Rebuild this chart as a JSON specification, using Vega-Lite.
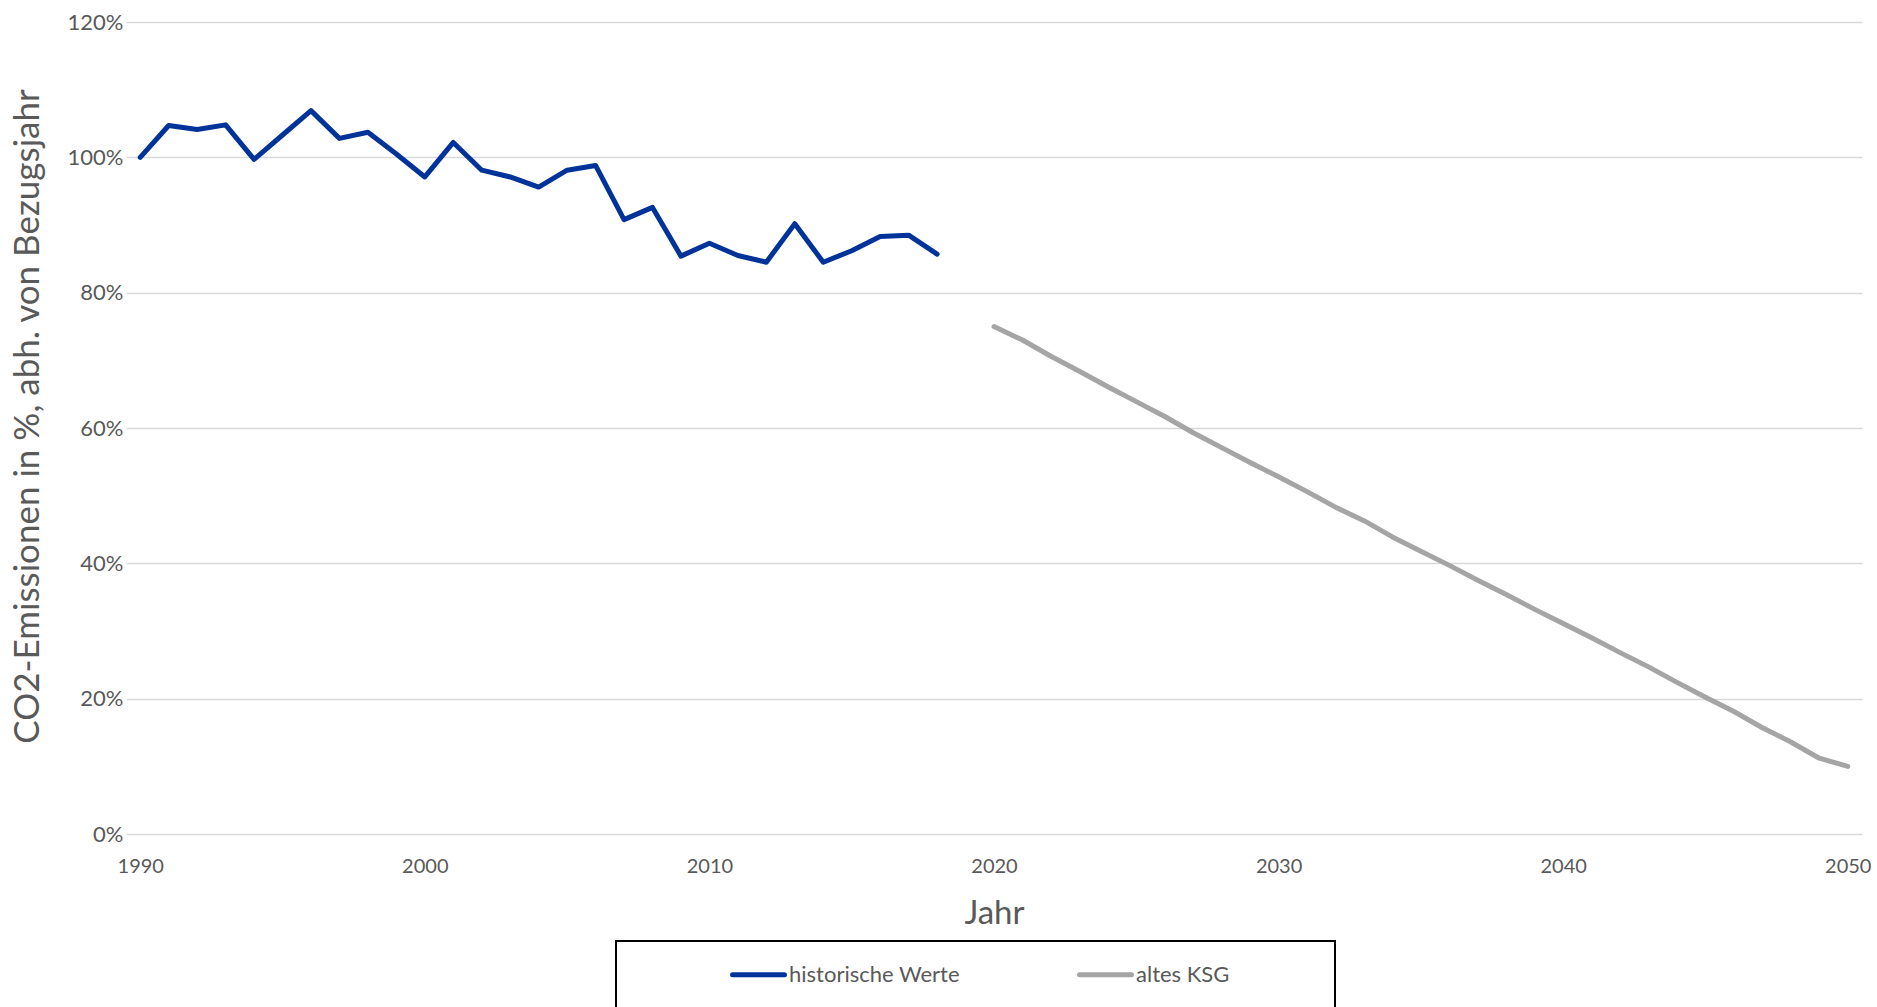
{
  "$schema": "https://vega.github.io/schema/vega-lite/v6.json",
  "autosize": {"type": "none"},
  "padding": {"left": 126, "top": 22, "right": 15, "bottom": 173},
  "width": 1736,
  "height": 812,
  "background": "white",
  "config": {
    "view": {"stroke": null},
    "font": "Lato",
    "axis": {"labelFont": "Lato", "titleFont": "Lato", "labelColor": "#595959", "titleColor": "#595959", "titleFontWeight": "normal"},
    "legend": {"labelFont": "Lato", "titleFont": "Lato"}
  },
  "data": {
    "values": [
      {"year": 1990, "value": 1.000, "series": "historische Werte"},
      {"year": 1991, "value": 1.047, "series": "historische Werte"},
      {"year": 1992, "value": 1.041, "series": "historische Werte"},
      {"year": 1993, "value": 1.048, "series": "historische Werte"},
      {"year": 1994, "value": 0.997, "series": "historische Werte"},
      {"year": 1995, "value": 1.033, "series": "historische Werte"},
      {"year": 1996, "value": 1.069, "series": "historische Werte"},
      {"year": 1997, "value": 1.028, "series": "historische Werte"},
      {"year": 1998, "value": 1.037, "series": "historische Werte"},
      {"year": 1999, "value": 1.005, "series": "historische Werte"},
      {"year": 2000, "value": 0.971, "series": "historische Werte"},
      {"year": 2001, "value": 1.022, "series": "historische Werte"},
      {"year": 2002, "value": 0.981, "series": "historische Werte"},
      {"year": 2003, "value": 0.971, "series": "historische Werte"},
      {"year": 2004, "value": 0.956, "series": "historische Werte"},
      {"year": 2005, "value": 0.981, "series": "historische Werte"},
      {"year": 2006, "value": 0.988, "series": "historische Werte"},
      {"year": 2007, "value": 0.908, "series": "historische Werte"},
      {"year": 2008, "value": 0.926, "series": "historische Werte"},
      {"year": 2009, "value": 0.854, "series": "historische Werte"},
      {"year": 2010, "value": 0.873, "series": "historische Werte"},
      {"year": 2011, "value": 0.855, "series": "historische Werte"},
      {"year": 2012, "value": 0.845, "series": "historische Werte"},
      {"year": 2013, "value": 0.902, "series": "historische Werte"},
      {"year": 2014, "value": 0.845, "series": "historische Werte"},
      {"year": 2015, "value": 0.862, "series": "historische Werte"},
      {"year": 2016, "value": 0.883, "series": "historische Werte"},
      {"year": 2017, "value": 0.885, "series": "historische Werte"},
      {"year": 2018, "value": 0.857, "series": "historische Werte"},
      {"year": 2020, "value": 0.750, "series": "altes KSG"},
      {"year": 2021, "value": 0.730, "series": "altes KSG"},
      {"year": 2022, "value": 0.706, "series": "altes KSG"},
      {"year": 2023, "value": 0.684, "series": "altes KSG"},
      {"year": 2024, "value": 0.661, "series": "altes KSG"},
      {"year": 2025, "value": 0.639, "series": "altes KSG"},
      {"year": 2026, "value": 0.617, "series": "altes KSG"},
      {"year": 2027, "value": 0.593, "series": "altes KSG"},
      {"year": 2028, "value": 0.571, "series": "altes KSG"},
      {"year": 2029, "value": 0.549, "series": "altes KSG"},
      {"year": 2030, "value": 0.528, "series": "altes KSG"},
      {"year": 2031, "value": 0.506, "series": "altes KSG"},
      {"year": 2032, "value": 0.483, "series": "altes KSG"},
      {"year": 2033, "value": 0.463, "series": "altes KSG"},
      {"year": 2034, "value": 0.439, "series": "altes KSG"},
      {"year": 2035, "value": 0.418, "series": "altes KSG"},
      {"year": 2036, "value": 0.397, "series": "altes KSG"},
      {"year": 2037, "value": 0.375, "series": "altes KSG"},
      {"year": 2038, "value": 0.354, "series": "altes KSG"},
      {"year": 2039, "value": 0.332, "series": "altes KSG"},
      {"year": 2040, "value": 0.311, "series": "altes KSG"},
      {"year": 2041, "value": 0.290, "series": "altes KSG"},
      {"year": 2042, "value": 0.268, "series": "altes KSG"},
      {"year": 2043, "value": 0.247, "series": "altes KSG"},
      {"year": 2044, "value": 0.224, "series": "altes KSG"},
      {"year": 2045, "value": 0.202, "series": "altes KSG"},
      {"year": 2046, "value": 0.181, "series": "altes KSG"},
      {"year": 2047, "value": 0.157, "series": "altes KSG"},
      {"year": 2048, "value": 0.136, "series": "altes KSG"},
      {"year": 2049, "value": 0.112, "series": "altes KSG"},
      {"year": 2050, "value": 0.100, "series": "altes KSG"}
    ]
  },
  "mark": {"type": "line", "strokeWidth": 5, "strokeCap": "round", "strokeJoin": "round"},
  "encoding": {
    "x": {
      "field": "year", "type": "quantitative",
      "scale": {"domain": [1989.5, 2050.5], "nice": false, "zero": false},
      "axis": {
        "title": "Jahr", "values": [1990, 2000, 2010, 2020, 2030, 2040, 2050], "format": "d",
        "grid": false, "domain": false, "ticks": false,
        "labelFontSize": 20, "labelPadding": 22, "titleFontSize": 33, "titlePadding": 21
      }
    },
    "y": {
      "field": "value", "type": "quantitative",
      "scale": {"domain": [0, 1.2], "nice": false},
      "axis": {
        "title": "CO2-Emissionen in %, abh. von Bezugsjahr", "values": [0, 0.2, 0.4, 0.6, 0.8, 1.0, 1.2], "format": ".0%",
        "grid": true, "gridColor": "#D9D9D9", "gridWidth": 1.5, "domain": false, "ticks": false,
        "labelFontSize": 22, "labelPadding": 3, "titleFontSize": 35, "titlePadding": 22, "titleY": 394
      }
    },
    "color": {
      "field": "series", "type": "nominal",
      "scale": {"domain": ["historische Werte", "altes KSG"], "range": ["#003399", "#A5A5A5"]},
      "legend": {
        "title": " ", "titleOrient": "right", "titlePadding": 84, "titleFontSize": 11,
        "orient": "none", "legendX": 490, "legendY": 919, "direction": "horizontal",
        "columns": 2, "gridAlign": "all",
        "symbolType": "M-3,0H3", "symbolSize": 300, "symbolStrokeWidth": 5,
        "labelFontSize": 22, "labelColor": "#595959", "labelOffset": 19, "labelLimit": 400,
        "strokeColor": "black", "padding": 22,
        "symbolOffset": 109, "columnPadding": 25,
        "encode": {
          "legend": {"update": {"strokeWidth": {"value": 2}}},
          "symbols": {"update": {"strokeCap": {"value": "round"}}}
        }
      }
    }
  }
}
